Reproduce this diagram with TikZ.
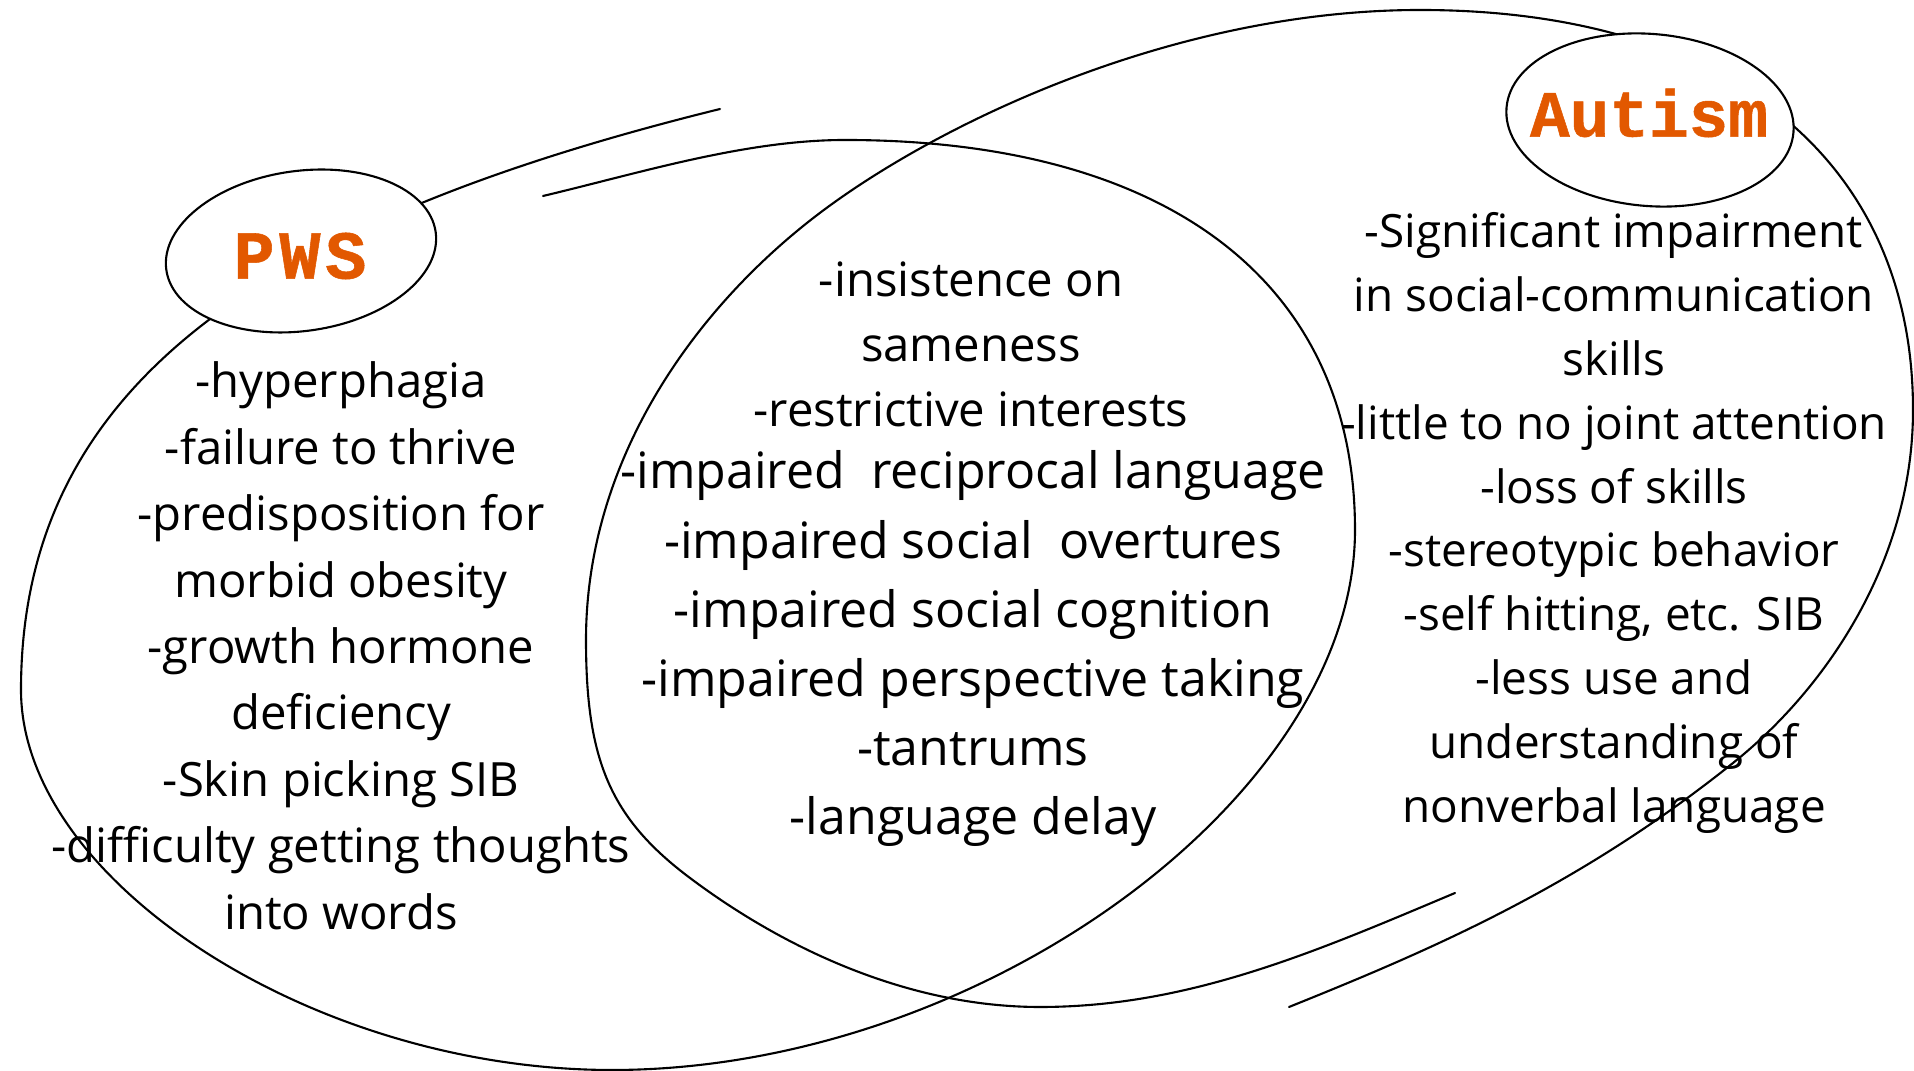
\documentclass[tikz,border=0pt]{standalone}
\usepackage{fontspec}
\setmainfont{Open Sans}
\newfontfamily\labelfont{Liberation Mono}[FakeBold=0.8]
\newfontfamily\labelfontwide{Liberation Mono}[FakeBold=0.8, LetterSpace=7]
\usetikzlibrary{shapes.geometric}
\definecolor{vennorange}{RGB}{226,88,0}
\begin{document}
\begin{tikzpicture}[x=0.1mm, y=-0.1mm,
  curve/.style={draw=black, line width=0.6pt, line cap=round},
  oval/.style={draw=black, fill=white, ellipse, inner sep=0pt, line width=0.6pt},
  titletext/.style={text=vennorange, inner sep=0pt},
  pwstext/.style={font=\fontsize{13.45pt}{18.85pt}\selectfont, anchor=base, inner sep=0pt},
  midtexta/.style={font=\fontsize{13.45pt}{18.85pt}\selectfont, anchor=base, inner sep=0pt},
  midtextb/.style={font=\fontsize{14.25pt}{19.6pt}\selectfont, anchor=base, inner sep=0pt},
  auttext/.style={font=\fontsize{13.05pt}{18.1pt}\selectfont, anchor=base, inner sep=0pt}]
\useasboundingbox[fill=white] (0,0) rectangle (1914,1071);

% left (PWS) hand-drawn ellipse
\draw[curve] (720,109) .. controls (254,224) and (21,390) .. (21,690)
  .. controls (21,880) and (312,1070) .. (612,1070)
  .. controls (982,1070) and (1355,795) .. (1355,530)
  .. controls (1355,280) and (1165,140) .. (845,140)
  .. controls (745,140) and (640,173) .. (543,196);

% right (Autism) hand-drawn ellipse
\draw[curve] (1455,893) .. controls (1317,951) and (1190,1007) .. (1040,1007)
  .. controls (910,1007) and (786,950) .. (690,878)
  .. controls (610,818) and (586,760) .. (586,640)
  .. controls (586,460) and (694,311) .. (812,219)
  .. controls (930,127) and (1170,10) .. (1420,10)
  .. controls (1740,10) and (1913,170) .. (1913,410)
  .. controls (1913,560) and (1827,688) .. (1733,763)
  .. controls (1577,888) and (1428,951) .. (1289,1007);

% title ovals
\node[oval, minimum width=27.2mm, minimum height=16mm, rotate=8] (pwsoval) at (301,251) {};
\node[oval, minimum width=28.8mm, minimum height=17.2mm, rotate=-5] (autoval) at (1650,120) {};
\node[titletext, font=\labelfontwide\bfseries\fontsize{19.5pt}{20pt}\selectfont] (pwslabel) at (300,256) {PWS};
\node[titletext, font=\labelfont\bfseries\fontsize{18.8pt}{20pt}\selectfont] (autlabel) at (1649,113) {Autism};

% PWS column
\foreach \t [count=\i] in {-hyperphagia, -failure to thrive, -predisposition for,
  morbid obesity, -growth hormone, deficiency, -Skin picking SIB,
  -difficulty getting thoughts, into words}
  \node[pwstext] (pws\i) at (341, {398+(\i-1)*66.4}) {\t};

% shared column
\foreach \t [count=\i] in {-insistence on, sameness, -restrictive interests}
  \node[midtexta] (mida\i) at (971, {297+(\i-1)*65}) {\t};
\foreach \t [count=\i] in {-impaired\ \ reciprocal language, -impaired social\ \ overtures,
  -impaired social cognition, -impaired perspective taking, -tantrums, -language delay}
  \node[midtextb] (midb\i) at (973, {489+(\i-1)*69.2}) {\t};

% Autism column
\foreach \t [count=\i] in {-Significant impairment, in social-communication, skills,
  -little to no joint attention, -loss of skills, -stereotypic behavior,
  {-self hitting, etc. SIB}, -less use and, understanding of, nonverbal language}
  \node[auttext] (aut\i) at (1614, {248+(\i-1)*63.8}) {\t};
\end{tikzpicture}
\end{document}
